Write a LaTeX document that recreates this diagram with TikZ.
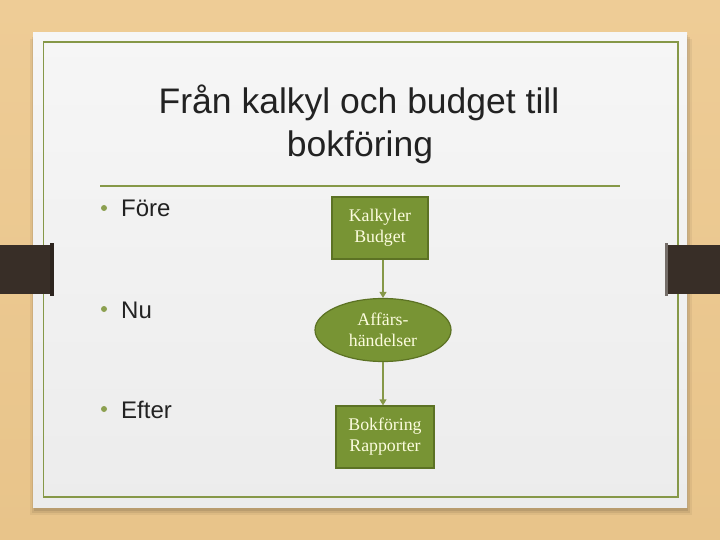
\documentclass[tikz,border=0pt]{standalone}
\usepackage{fontspec}
\setmainfont{Liberation Sans}
\newfontfamily\boxserif{Liberation Serif}
\usetikzlibrary{shapes.geometric,arrows.meta}
\definecolor{woodA}{RGB}{238,204,150}
\definecolor{woodB}{RGB}{232,196,138}
\definecolor{paperA}{RGB}{246,246,246}
\definecolor{paperB}{RGB}{236,236,236}
\definecolor{olivefill}{RGB}{120,148,52}
\definecolor{olivedark}{RGB}{92,114,36}
\definecolor{rulecol}{RGB}{134,152,72}
\definecolor{bulletcol}{RGB}{140,160,80}
\definecolor{tabcol}{RGB}{56,46,39}
\definecolor{boxtext}{RGB}{252,252,222}
\definecolor{titlecol}{RGB}{34,34,34}
\tikzset{
  flowbox/.style={rectangle, fill=olivefill, draw=olivedark, line width=1.2pt,
    minimum width=96pt, minimum height=62pt, inner sep=0pt, align=center,
    text=boxtext, font=\boxserif\fontsize{17.8}{21}\selectfont},
  flowell/.style={ellipse, fill=olivefill, draw=olivedark, line width=1.2pt,
    minimum width=136pt, minimum height=63pt, inner sep=0pt, align=center,
    text=boxtext, font=\boxserif\fontsize{17.8}{21}\selectfont},
  flowarrow/.style={draw=rulecol, line width=1.2pt, -{Triangle[length=6pt,width=7pt]}},
  titletext/.style={anchor=base, inner sep=0pt, text=titlecol, font=\fontsize{35.5}{43}\selectfont},
  bullettext/.style={anchor=base west, inner sep=0pt, text=titlecol, font=\fontsize{24}{28}\selectfont},
  bulletdot/.style={circle, fill=bulletcol, inner sep=0pt, minimum size=6pt},
}
\begin{document}
\begin{tikzpicture}[x=1pt,y=-1pt]
\useasboundingbox (0,0) rectangle (720,540);
% wood background
\shade[top color=woodA, bottom color=woodB] (0,0) rectangle (720,540);
% paper shadow
\foreach \d/\o in {6/0.05,4/0.07,2/0.09}{
  \fill[black,opacity=\o] (33-\d+3,33+\d) rectangle (687+\d-1,507+\d+2);
}
% paper
\shade[top color=paperA, bottom color=paperB] (33,33) rectangle (687,507);
\draw[rulecol, line width=1.6pt] (43.6,42) rectangle (677.7,497);
% side tabs
\fill[tabcol] (0,245) rectangle (53,294);
\fill[tabcol!80!black] (50,243) rectangle (54,296);
\fill[tabcol] (666,245) rectangle (720,294);
\fill[tabcol!70!white] (665,243) rectangle (668,296);
% title
\node[titletext] (title1) at (359,114) {Från kalkyl och budget till};
\node[titletext] (title2) at (360,157) {bokföring};
% rule
\draw[rulecol, line width=2pt] (100,185.7) -- (620,185.7);
% bullets
\node[bulletdot] (d1) at (104,208) {};
\node[bullettext] (b1) at (121,217) {Före};
\node[bulletdot] (d2) at (104,309) {};
\node[bullettext] (b2) at (121,318) {Nu};
\node[bulletdot] (d3) at (104,409) {};
\node[bullettext] (b3) at (121,418) {Efter};
% flow
\node[flowbox] (k) at (380,228) {Kalkyler\\Budget};
\node[flowell] (a) at (383,330) {Affärs-\\händelser};
\node[flowbox, minimum width=98pt] (r) at (385,437) {Bokföring\\Rapporter};
\draw[flowarrow] (a.north |- k.south) -- (a.north);
\draw[flowarrow] (a.south) -- (a.south |- r.north);
\end{tikzpicture}
\end{document}
